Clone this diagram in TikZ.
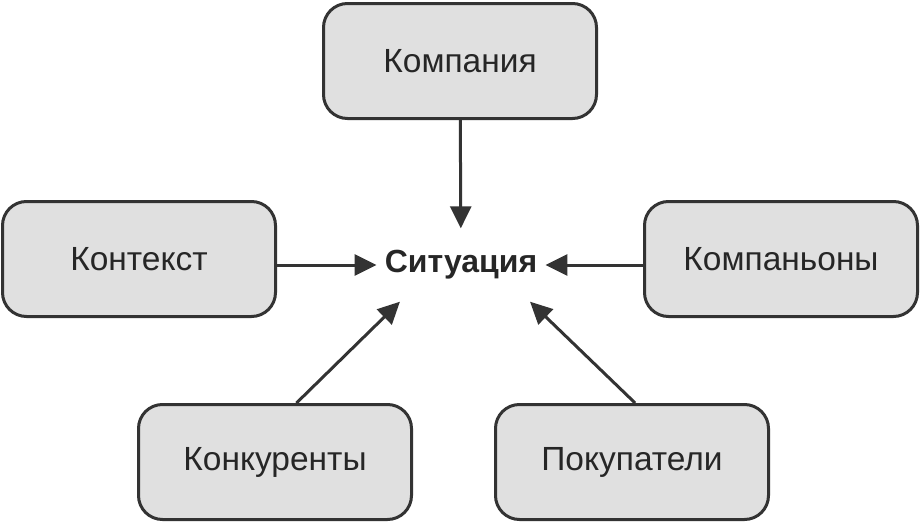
\documentclass[tikz,border=0pt]{standalone}
\usepackage{fontspec}
\setmainfont{Liberation Sans}
\usetikzlibrary{positioning,arrows.meta}

\definecolor{boxfill}{HTML}{E0E0E0}
\definecolor{boxline}{HTML}{333333}
\definecolor{inktext}{HTML}{262626}

\tikzset{
  factor/.style={draw=boxline, fill=boxfill, line width=3pt, rounded corners=24pt,
    minimum width=273pt, minimum height=115pt, text=inktext,
    font=\fontsize{33.5}{40}\selectfont},
  centre/.style={text=inktext, inner xsep=8pt, inner ysep=22pt,
    font=\fontsize{32}{38}\selectfont\bfseries},
  link/.style={draw=boxline, line width=3pt, -{Triangle[length=22pt,width=21pt]}}
}

\begin{document}
\begin{tikzpicture}[x=1pt,y=-1pt]

\useasboundingbox (0,0) rectangle (922,525);

\node[factor] (kompaniya) at (460,61) {Компания};
\node[factor] (kontekst) at (139,259) {Контекст};
\node[factor] (kompanony) at (781,259) {Компаньоны};
\node[factor] (konkurenty) at (275,462) {Конкуренты};
\node[factor] (pokupateli) at (632,462) {Покупатели};

\node[centre] (situaciya) at (461,265) {Ситуация};

\draw[link] (kompaniya) -- (situaciya);
\draw[link] (kontekst.east |- situaciya) -- (situaciya);
\draw[link] (kompanony.west |- situaciya) -- (situaciya);
\draw[link] (konkurenty.70) -- (situaciya.211);
\draw[link] (pokupateli.87) -- (situaciya.332);

\end{tikzpicture}
\end{document}
